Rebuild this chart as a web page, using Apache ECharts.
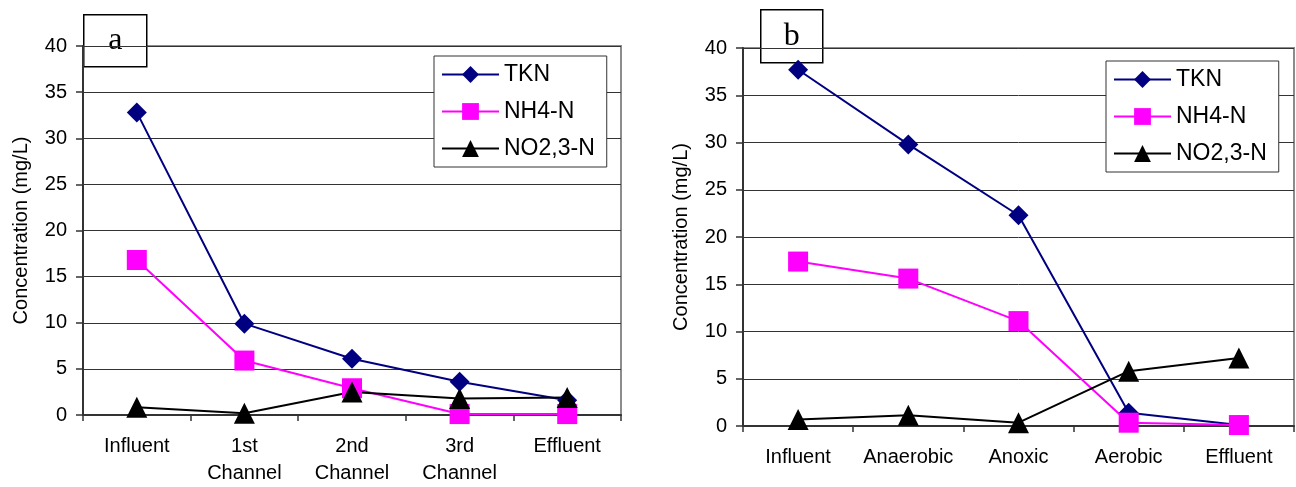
<!DOCTYPE html>
<html>
<head>
<meta charset="utf-8">
<script src="https://cdn.jsdelivr.net/npm/echarts@6/dist/echarts.min.js"></script>
<style>
html, body { margin: 0; padding: 0; background: #fff; }
#chart { width: 1296px; height: 487px; }
</style>
</head>
<body>
<div id="chart"></div>
<script>
// panel a
var stagesA = ['Influent', '1st\nChannel', '2nd\nChannel', '3rd\nChannel', 'Effluent']
var tknA = [32.8, 9.9, 6.1, 3.6, 1.6]
var nh4A = [16.8, 5.9, 2.9, 0.1, 0.1]
var no23A = [0.85, 0.2, 2.5, 1.8, 1.9]
// panel b
var stagesB = ['Influent', 'Anaerobic', 'Anoxic', 'Aerobic', 'Effluent']
var tknB = [37.7, 29.8, 22.3, 1.4, 0.1]
var nh4B = [17.4, 15.6, 11.1, 0.35, 0.1]
var no23B = [0.7, 1.15, 0.35, 5.8, 7.2]

var font = 'Liberation Sans, Arial, sans-serif'
var chart = echarts.init(document.getElementById('chart'))

function xAxis(idx, cats) {
  return {
    type: 'category',
    gridIndex: idx,
    data: cats,
    boundaryGap: true,
    axisLine: { lineStyle: { color: '#333', width: 2 } },
    axisTick: { show: true, length: 6, lineStyle: { color: '#333', width: 1.5 } },
    axisLabel: { color: '#000', fontFamily: font, fontSize: 20, lineHeight: 27, margin: 18, interval: 0 }
  }
}
function yAxis(idx) {
  return {
    type: 'value',
    gridIndex: idx,
    min: 0,
    max: 40,
    interval: 5,
    name: 'Concentration (mg/L)',
    nameLocation: 'middle',
    nameRotate: 90,
    nameGap: 52,
    nameTextStyle: { color: '#000', fontFamily: font, fontSize: 20 },
    axisLine: { show: true, lineStyle: { color: '#333', width: 2 } },
    axisTick: { show: true, length: 7, lineStyle: { color: '#333', width: 1.5 } },
    axisLabel: { color: '#000', fontFamily: font, fontSize: 20, margin: 16 },
    splitLine: { lineStyle: { color: '#333', width: 1 } }
  }
}
function lineSeries(name, idx, data, color, symbol, size) {
  return {
    name: name,
    type: 'line',
    xAxisIndex: idx,
    yAxisIndex: idx,
    data: data,
    symbol: symbol,
    symbolSize: size,
    showAllSymbol: true,
    lineStyle: { color: color, width: 2 },
    itemStyle: { color: color, opacity: 1 },
    animation: false
  }
}
function legend(left, top) {
  return {
    orient: 'vertical',
    left: left,
    top: top,
    data: ['TKN', 'NH4-N', 'NO2,3-N'],
    itemWidth: 57,
    itemHeight: 21,
    itemGap: 14,
    padding: [7, 12, 7, 7],
    backgroundColor: '#fff',
    borderColor: '#333',
    borderWidth: 1,
    borderRadius: 0,
    selectedMode: false,
    textStyle: { color: '#000', fontFamily: font, fontSize: 23 }
  }
}
function labelBox(letter, left, top, w, h) {
  return {
    type: 'group',
    left: left,
    top: top,
    z: 100,
    children: [
      { type: 'rect', shape: { x: 0, y: 0, width: w, height: h }, style: { fill: '#fff', stroke: '#000', lineWidth: 1.5 } },
      { type: 'text', x: w / 2, y: h / 2, style: { text: letter, fontFamily: 'Liberation Serif, Times New Roman, serif', fontSize: 32, fill: '#000', align: 'center', verticalAlign: 'middle' } }
    ]
  }
}

chart.setOption({
  backgroundColor: '#fff',
  animation: false,
  grid: [
    { left: 83, top: 46, width: 538, height: 369, show: true, borderColor: '#8c8c8c', borderWidth: 2, backgroundColor: 'transparent' },
    { left: 743, top: 48, width: 551, height: 378, show: true, borderColor: '#8c8c8c', borderWidth: 2, backgroundColor: 'transparent' }
  ],
  xAxis: [xAxis(0, stagesA), xAxis(1, stagesB)],
  yAxis: [yAxis(0), yAxis(1)],
  legend: [legend(434, 56), legend(1106, 61)],
  series: [
    lineSeries('TKN', 0, tknA, '#000080', 'diamond', 20),
    lineSeries('NH4-N', 0, nh4A, '#ff00ff', 'rect', 20),
    lineSeries('NO2,3-N', 0, no23A, '#000000', 'triangle', 21),
    lineSeries('TKN', 1, tknB, '#000080', 'diamond', 20),
    lineSeries('NH4-N', 1, nh4B, '#ff00ff', 'rect', 20),
    lineSeries('NO2,3-N', 1, no23B, '#000000', 'triangle', 21)
  ],
  graphic: [
    labelBox('a', 83, 14, 63, 52),
    labelBox('b', 760, 9, 62, 53)
  ]
})
</script>
</body>
</html>
